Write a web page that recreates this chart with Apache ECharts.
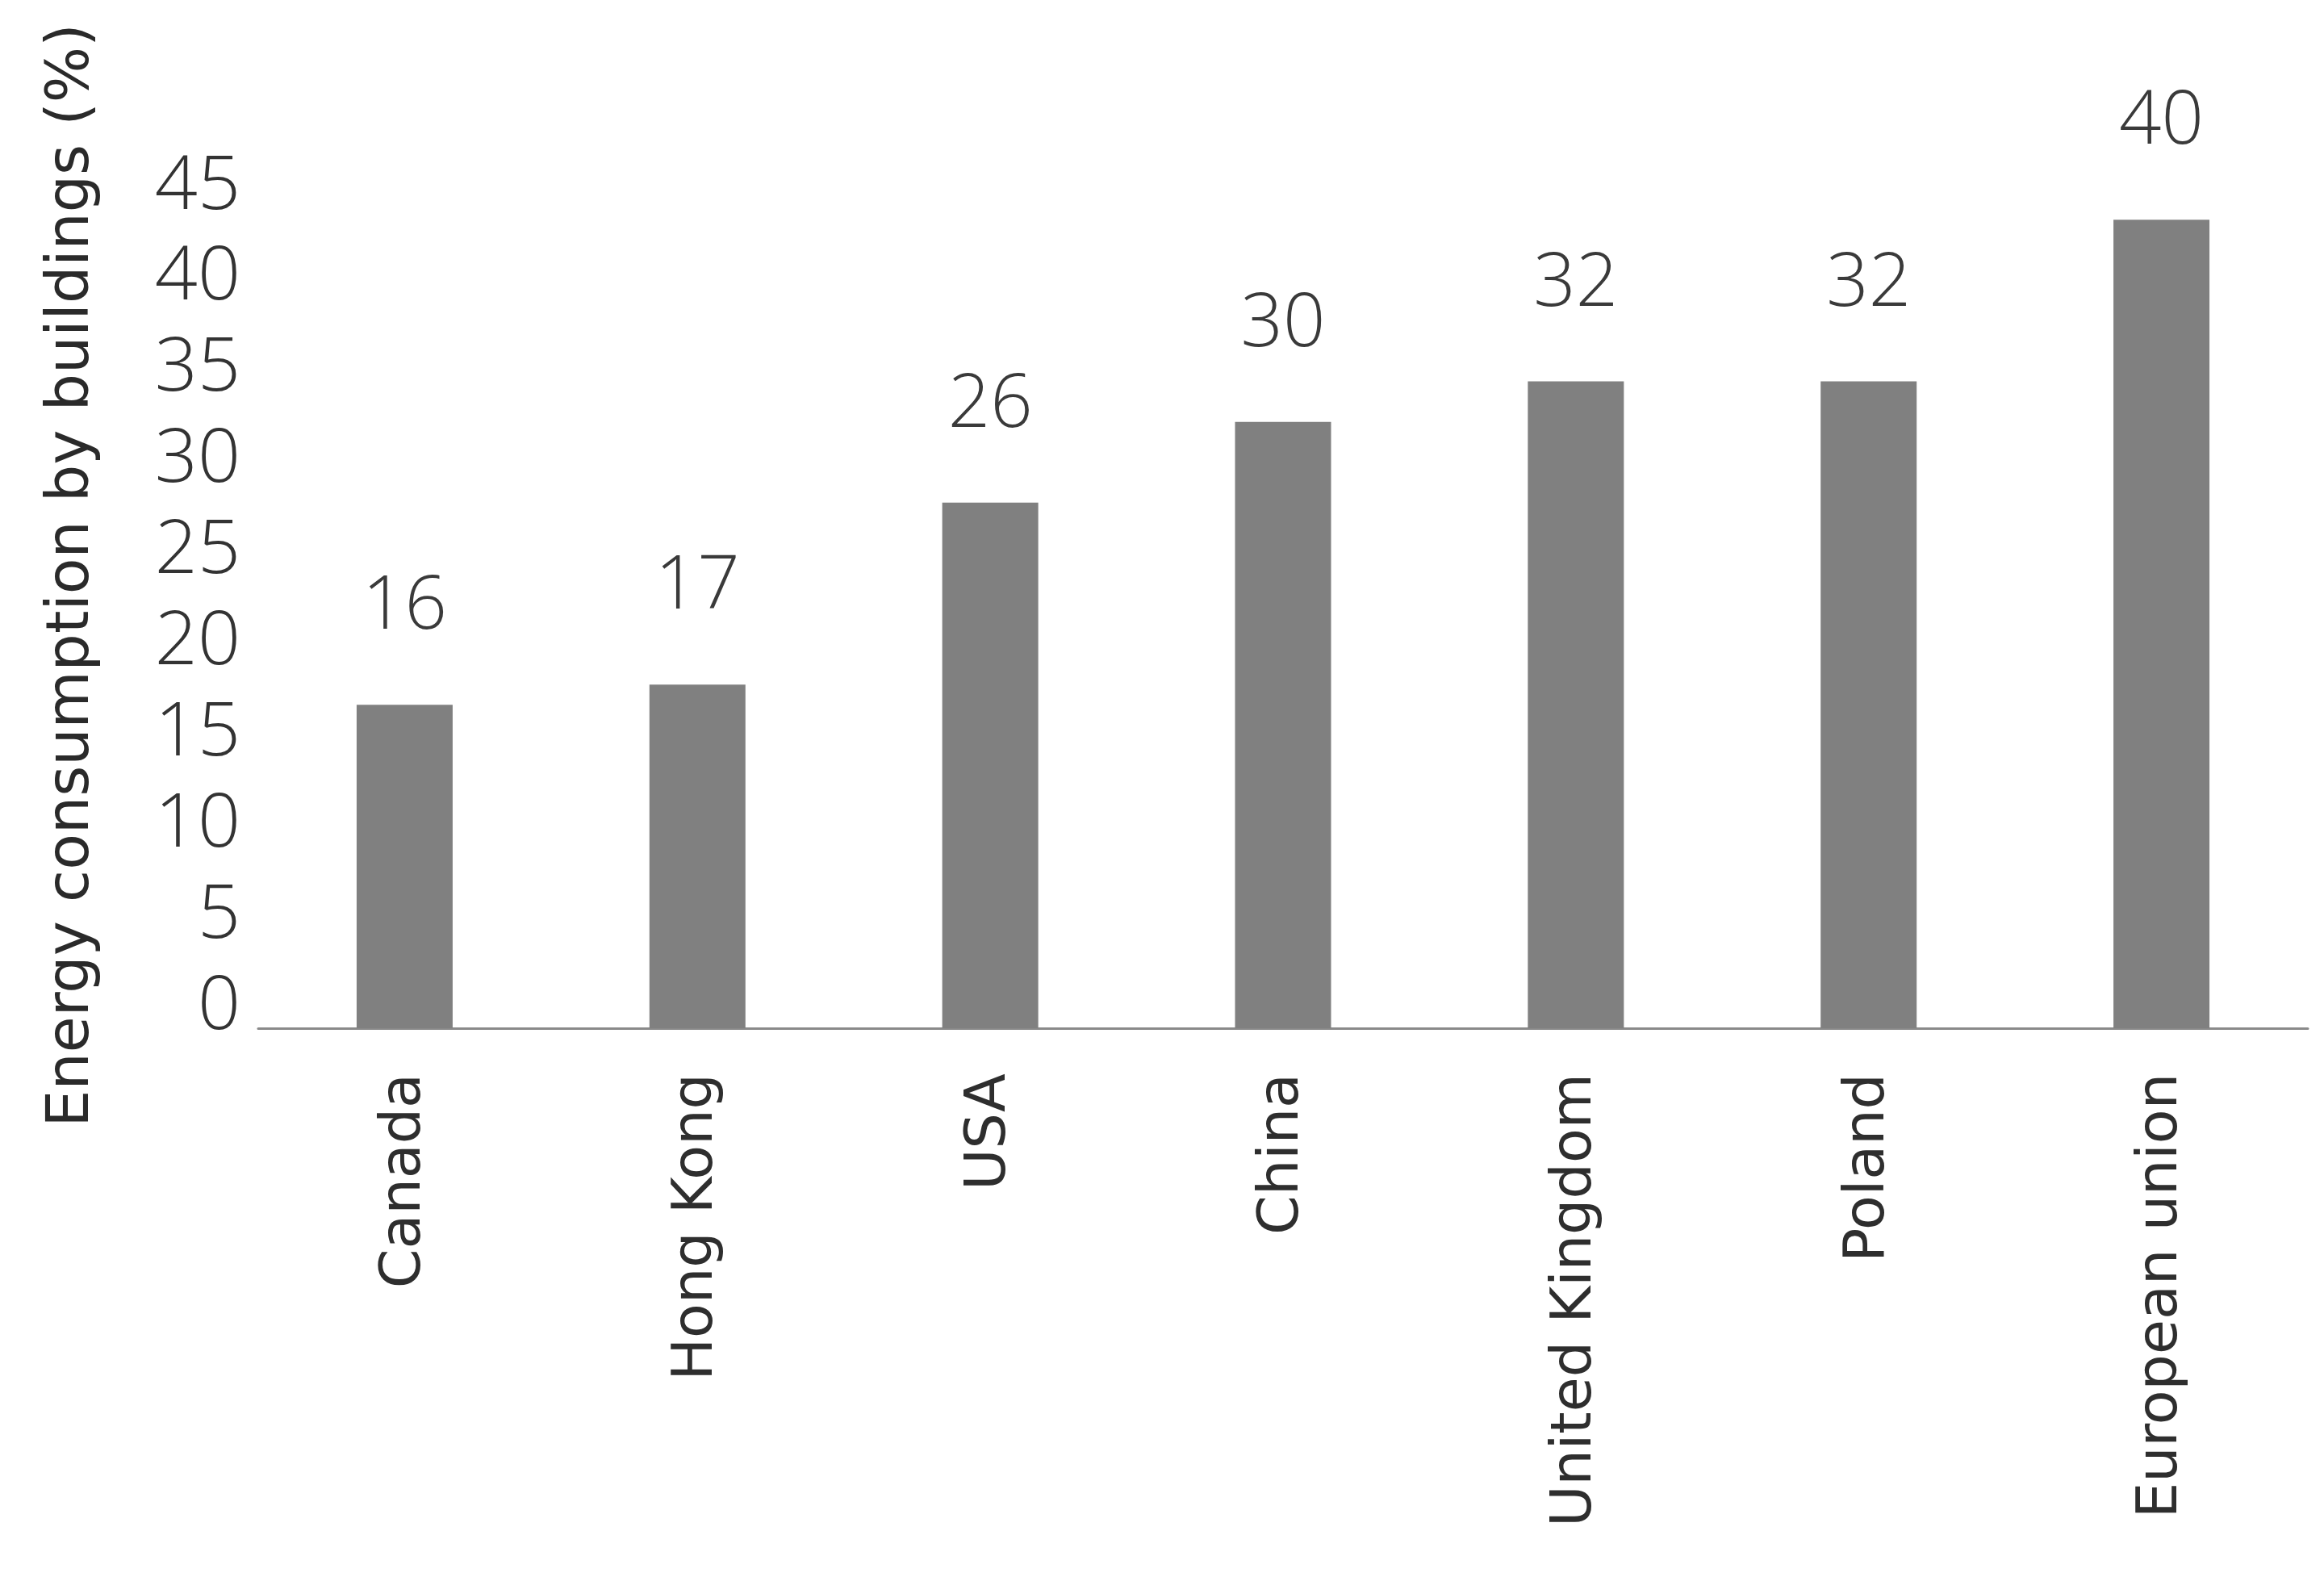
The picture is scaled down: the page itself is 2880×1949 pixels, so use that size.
<!DOCTYPE html>
<html>
<head>
<meta charset="utf-8">
<script src="https://cdn.jsdelivr.net/npm/echarts@6/dist/echarts.min.js"></script>
<style>
html,body{margin:0;padding:0;background:#fff;}
#chart{width:2880px;height:1949px;}
</style>
</head>
<body>
<div id="chart"></div>
<script>
const categories = ['Canada', 'Hong Kong', 'USA', 'China', 'United Kingdom', 'Poland', 'European union'];
const values = [16, 17, 26, 30, 32, 32, 40];
const tickMin = 0;
const tickMax = 45;
const tickStep = 5;
const axisTitle = 'Energy consumption by buildings (%)';

const chart = echarts.init(document.getElementById('chart'), null, {renderer: 'canvas'});
const option = {
  backgroundColor: '#ffffff',
  animation: false,
  grid: [
    {left: 320, right: 20, top: 147, bottom: 675, containLabel: false},
    {left: 331, right: 16, top: 232, bottom: 701, containLabel: false}
  ],
  xAxis: [
    {
      type: 'category', gridIndex: 0, data: categories,
      axisLine: {show: true, lineStyle: {color: '#8a8a8a', width: 3}},
      axisTick: {show: false},
      axisLabel: {
        interval: 0, rotate: 90, margin: 56,
        fontFamily: 'DejaVu Sans', fontSize: 70, color: '#2e2e2e'
      }
    },
    {type: 'category', gridIndex: 1, data: categories, show: false}
  ],
  yAxis: [
    {
      type: 'value', gridIndex: 0, min: 0, max: 45, interval: 5, show: false,
      splitLine: {show: false}
    },
    {
      type: 'value', gridIndex: 1, min: tickMin, max: tickMax, interval: tickStep,
      axisLine: {show: false}, axisTick: {show: false}, splitLine: {show: false},
      axisLabel: {
        margin: 33, fontFamily: 'Open Sans', fontWeight: 300, fontSize: 93, color: '#333333'
      },
      name: axisTitle, nameLocation: 'middle', nameGap: 204, nameRotate: 90,
      nameTextStyle: {fontFamily: 'DejaVu Sans', fontSize: 73, color: '#2a2a2a', padding: [0, 0, 0, 54]}
    }
  ],
  series: [
    {
      type: 'bar', xAxisIndex: 0, yAxisIndex: 0, data: values,
      barWidth: 119,
      itemStyle: {color: '#808080'},
      label: {
        show: true, position: 'top', distance: 74,
        fontFamily: 'Open Sans', fontWeight: 300, fontSize: 92, lineHeight: 92, color: '#3a3a3a'
      }
    }
  ]
};
chart.setOption(option);
</script>
</body>
</html>
